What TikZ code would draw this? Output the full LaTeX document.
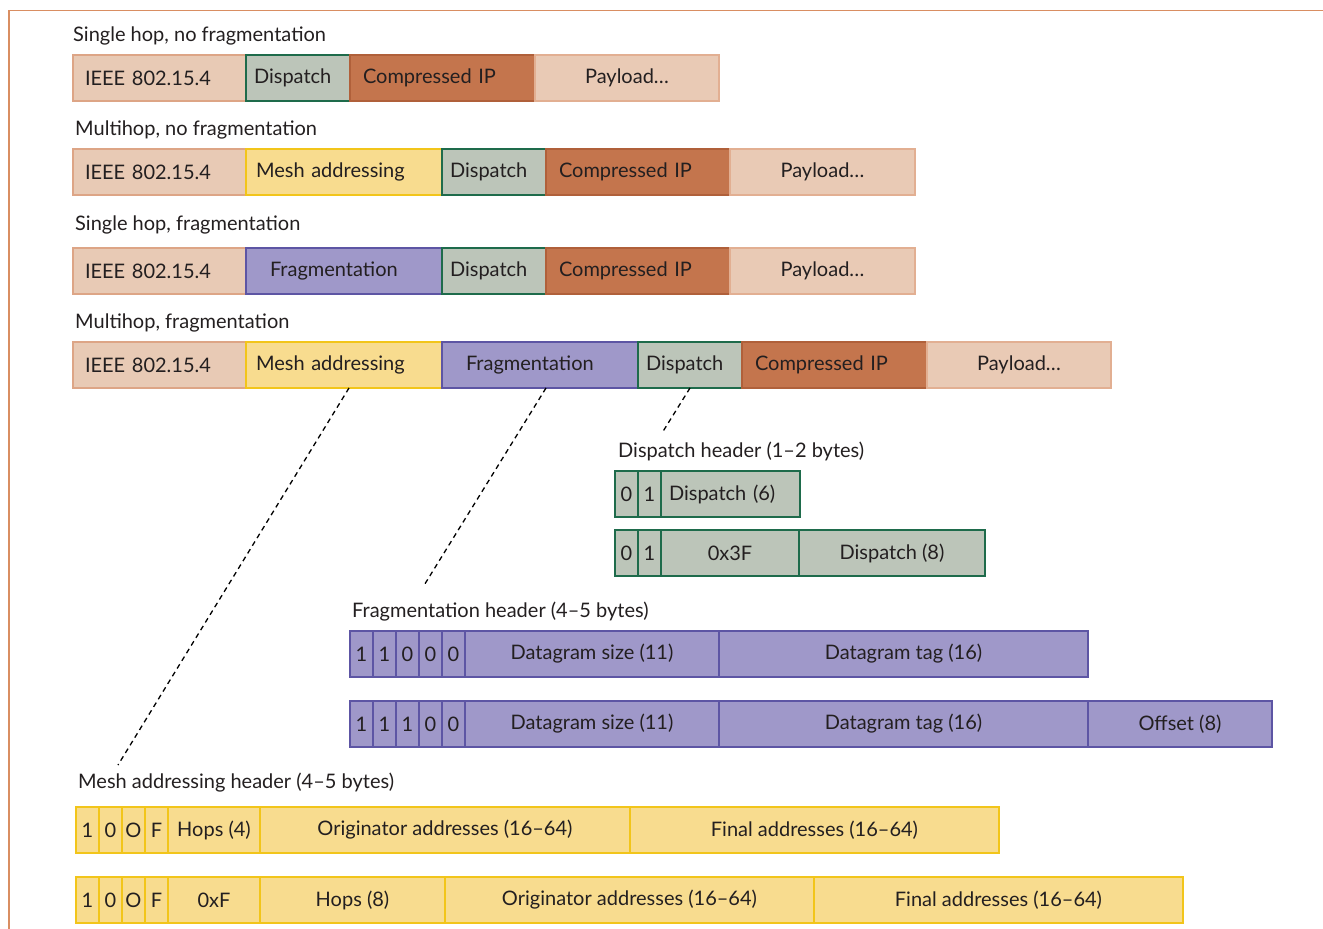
\documentclass[tikz,border=0pt]{standalone}
\usepackage{fontspec}
\setmainfont{Lato}
\usetikzlibrary{positioning}
\definecolor{ieeefill}{HTML}{E8CAB5}
\definecolor{ieeeline}{HTML}{DDA586}
\definecolor{dispfill}{HTML}{BCC5B9}
\definecolor{displine}{HTML}{1E6B4B}
\definecolor{cipfill}{HTML}{C4754D}
\definecolor{cipline}{HTML}{B0603A}
\definecolor{payfill}{HTML}{E9CAB5}
\definecolor{payline}{HTML}{E2AF92}
\definecolor{meshfill}{HTML}{F8DC8F}
\definecolor{meshline}{HTML}{F2C51A}
\definecolor{fragfill}{HTML}{9F98C9}
\definecolor{fragline}{HTML}{5D55A4}
\definecolor{framecol}{HTML}{D98E62}
\definecolor{txt}{HTML}{231F20}
\tikzset{
  field/.style={draw, line width=1.5pt, minimum height=46pt, outer sep=0pt,
    inner sep=0pt, text=txt, font=\fontsize{20}{23}\selectfont},
  w/.style={minimum width=#1pt},
  padl/.style 2 args={text width=#1pt-2*#2pt, inner xsep=#2pt, align=left},
  ieee/.style={field, fill=ieeefill, draw=ieeeline, padl={173}{12}},
  disp/.style={field, fill=dispfill, draw=displine},
  cip/.style={field, fill=cipfill, draw=cipline},
  pay/.style={field, fill=payfill, draw=payline},
  mesh/.style={field, fill=meshfill, draw=meshline},
  frag/.style={field, fill=fragfill, draw=fragline},
  lbl/.style={anchor=base west, inner sep=0pt, text=txt, font=\fontsize{20}{23}\selectfont},
  link/.style={line width=1.3pt, dash pattern=on 5pt off 4pt},
}
\begin{document}
\begin{tikzpicture}[x=1pt, y=-1pt]
  \useasboundingbox (0,0) rectangle (1323,929);
  \draw[framecol, line width=1.5pt] (9,929) |- (1323,10.5);

  % frame formats
  \node[lbl] (l1) at (73,41) {Single hop, no fragmentation};
  \node[ieee, anchor=north west] (r1a) at (73,55) {IEEE 802.15.4};
  \node[disp, padl={104}{8}, right=0pt of r1a] (r1b) {Dispatch};
  \node[cip, padl={185}{13}, right=0pt of r1b] (r1c) {Compressed IP};
  \node[pay, w=184, right=0pt of r1c] (r1d) {Payload…};

  \node[lbl] (l2) at (75,135) {Multihop, no fragmentation};
  \node[ieee, anchor=north west] (r2a) at (73,149) {IEEE 802.15.4};
  \node[mesh, padl={196}{10}, right=0pt of r2a] (r2b) {Mesh addressing};
  \node[disp, padl={104}{8}, right=0pt of r2b] (r2c) {Dispatch};
  \node[cip, padl={184}{13}, right=0pt of r2c] (r2d) {Compressed IP};
  \node[pay, w=185, right=0pt of r2d] (r2e) {Payload…};

  \node[lbl] (l3) at (75,230) {Single hop, fragmentation};
  \node[ieee, anchor=north west] (r3a) at (73,248) {IEEE 802.15.4};
  \node[frag, padl={196}{24}, right=0pt of r3a] (r3b) {Fragmentation};
  \node[disp, padl={104}{8}, right=0pt of r3b] (r3c) {Dispatch};
  \node[cip, padl={184}{13}, right=0pt of r3c] (r3d) {Compressed IP};
  \node[pay, w=185, right=0pt of r3d] (r3e) {Payload…};

  \node[lbl] (l4) at (75,328) {Multihop, fragmentation};
  \node[ieee, anchor=north west] (r4a) at (73,342) {IEEE 802.15.4};
  \node[mesh, padl={196}{10}, right=0pt of r4a] (r4b) {Mesh addressing};
  \node[frag, padl={196}{24}, right=0pt of r4b] (r4c) {Fragmentation};
  \node[disp, padl={104}{8}, right=0pt of r4c] (r4d) {Dispatch};
  \node[cip, padl={185}{13}, right=0pt of r4d] (r4e) {Compressed IP};
  \node[pay, w=184, right=0pt of r4e] (r4f) {Payload…};

  % dispatch header
  \node[lbl] (ld) at (618,457) {Dispatch header (1--2 bytes)};
  \node[disp, w=23, anchor=north west] (d1a) at (615,471) {0};
  \node[disp, w=23, right=0pt of d1a] (d1b) {1};
  \node[disp, padl={139}{8}, right=0pt of d1b] (d1c) {Dispatch (6)};
  \node[disp, w=23, anchor=north west] (d2a) at (615,530) {0};
  \node[disp, w=23, right=0pt of d2a] (d2b) {1};
  \node[disp, w=138, right=0pt of d2b] (d2c) {0x3F};
  \node[disp, w=186, right=0pt of d2c] (d2d) {Dispatch (8)};

  % fragmentation header
  \node[lbl] (lf) at (352,617) {Fragmentation header (4--5 bytes)};
  \node[frag, w=23, anchor=north west] (f1a) at (350,631) {1};
  \node[frag, w=23, right=0pt of f1a] (f1b) {1};
  \node[frag, w=23, right=0pt of f1b] (f1c) {0};
  \node[frag, w=23, right=0pt of f1c] (f1d) {0};
  \node[frag, w=23, right=0pt of f1d] (f1e) {0};
  \node[frag, w=254, right=0pt of f1e] (f1f) {Datagram size (11)};
  \node[frag, w=369, right=0pt of f1f] (f1g) {Datagram tag (16)};
  \node[frag, w=23, anchor=north west] (f2a) at (350,701) {1};
  \node[frag, w=23, right=0pt of f2a] (f2b) {1};
  \node[frag, w=23, right=0pt of f2b] (f2c) {1};
  \node[frag, w=23, right=0pt of f2c] (f2d) {0};
  \node[frag, w=23, right=0pt of f2d] (f2e) {0};
  \node[frag, w=254, right=0pt of f2e] (f2f) {Datagram size (11)};
  \node[frag, w=369, right=0pt of f2f] (f2g) {Datagram tag (16)};
  \node[frag, w=184, right=0pt of f2g] (f2h) {Offset (8)};

  % mesh addressing header
  \node[lbl] (lm) at (78,788) {Mesh addressing header (4--5 bytes)};
  \node[mesh, w=23, anchor=north west] (m1a) at (76,807) {1};
  \node[mesh, w=23, right=0pt of m1a] (m1b) {0};
  \node[mesh, w=23, right=0pt of m1b] (m1c) {O};
  \node[mesh, w=23, right=0pt of m1c] (m1d) {F};
  \node[mesh, w=92, right=0pt of m1d] (m1e) {Hops (4)};
  \node[mesh, w=370, right=0pt of m1e] (m1f) {Originator addresses (16--64)};
  \node[mesh, w=369, right=0pt of m1f] (m1g) {Final addresses (16--64)};
  \node[mesh, w=23, anchor=north west] (m2a) at (76,877) {1};
  \node[mesh, w=23, right=0pt of m2a] (m2b) {0};
  \node[mesh, w=23, right=0pt of m2b] (m2c) {O};
  \node[mesh, w=23, right=0pt of m2c] (m2d) {F};
  \node[mesh, w=92, right=0pt of m2d] (m2e) {0xF};
  \node[mesh, w=185, right=0pt of m2e] (m2f) {Hops (8)};
  \node[mesh, w=369, right=0pt of m2f] (m2g) {Originator addresses (16--64)};
  \node[mesh, w=369, right=0pt of m2g] (m2h) {Final addresses (16--64)};

  % dotted links
  \coordinate (meshend) at (118,765);
  \coordinate (fragend) at (423,587);
  \coordinate (dispend) at (662,433);
  \draw[link] ([xshift=5pt]r4b.south) -- (meshend);
  \draw[link] ([xshift=6pt]r4c.south) -- (fragend);
  \draw[link] (r4d.south) -- (dispend);
\end{tikzpicture}
\end{document}
